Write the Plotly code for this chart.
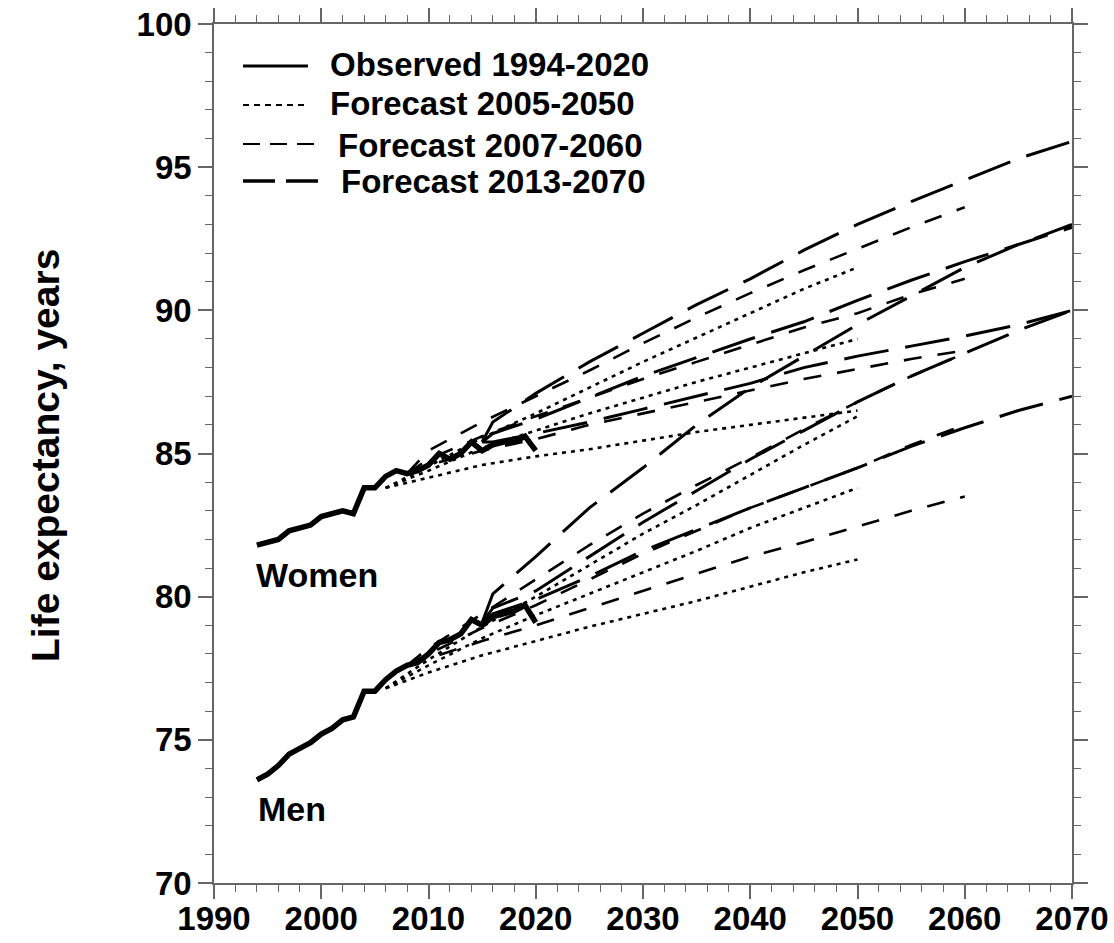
import plotly.graph_objects as go

# ---------------- data ----------------
obs_years = list(range(1994, 2021))
obs_women = [81.8, 81.9, 82.0, 82.3, 82.4, 82.5, 82.8, 82.9, 83.0, 82.9, 83.8, 83.8, 84.2,
             84.4, 84.3, 84.4, 84.6, 85.0, 84.8, 85.0, 85.4, 85.1, 85.3, 85.4, 85.4, 85.6, 85.1]
obs_men = [73.6, 73.8, 74.1, 74.5, 74.7, 74.9, 75.2, 75.4, 75.7, 75.8, 76.7, 76.7, 77.1,
           77.4, 77.6, 77.7, 78.0, 78.4, 78.5, 78.7, 79.2, 79.0, 79.3, 79.4, 79.5, 79.7, 79.1]

# Forecast 2005-2050 (dotted)
f2005_years = [2006, 2010, 2015, 2020, 2025, 2030, 2035, 2040, 2045, 2050]
f2005_w_high = [83.8, 84.55, 85.55, 86.4, 87.3, 88.2, 89.05, 89.9, 90.75, 91.5]
f2005_w_mid = [83.8, 84.4, 85.2, 85.8, 86.4, 86.95, 87.5, 88.0, 88.5, 89.0]
f2005_w_low = [83.8, 84.15, 84.6, 84.9, 85.15, 85.45, 85.75, 86.0, 86.25, 86.5]
f2005_m_high = [76.8, 77.8, 78.95, 80.0, 81.1, 82.2, 83.2, 84.25, 85.3, 86.3]
f2005_m_mid = [76.8, 77.6, 78.55, 79.35, 80.1, 80.85, 81.6, 82.4, 83.1, 83.8]
f2005_m_low = [76.8, 77.35, 77.95, 78.45, 78.95, 79.4, 79.85, 80.35, 80.85, 81.3]

# Forecast 2007-2060 (dashed)
f2007_years = [2008, 2010, 2015, 2020, 2025, 2030, 2035, 2040, 2045, 2050, 2055, 2060]
f2007_w_high = [84.3, 85.1, 86.1, 87.0, 87.9, 88.85, 89.75, 90.6, 91.4, 92.15, 92.9, 93.6]
f2007_w_mid = [84.3, 84.8, 85.6, 86.3, 86.95, 87.6, 88.2, 88.8, 89.4, 89.9, 90.55, 91.1]
f2007_w_low = [84.3, 84.6, 85.1, 85.5, 86.0, 86.4, 86.8, 87.2, 87.6, 87.95, 88.3, 88.6]
f2007_m_high = [77.6, 78.2, 79.4, 80.6, 81.8, 82.9, 83.9, 84.85, 85.85, 86.8, 87.7, 88.5]
f2007_m_mid = [77.6, 78.0, 78.9, 79.7, 80.6, 81.5, 82.3, 83.1, 83.8, 84.5, 85.3, 86.0]
f2007_m_low = [77.6, 77.85, 78.45, 79.0, 79.6, 80.2, 80.8, 81.4, 81.9, 82.45, 83.0, 83.5]

# Forecast 2013-2070 (long dashes)
f2013_years = [2015, 2016, 2020, 2025, 2030, 2035, 2040, 2045, 2050, 2055, 2060, 2065, 2070]
f2013_w_high = [85.4, 86.1, 87.1, 88.2, 89.2, 90.2, 91.1, 92.1, 93.0, 93.8, 94.55, 95.3, 95.9]
f2013_w_mid = [85.4, 85.7, 86.2, 86.95, 87.7, 88.35, 89.0, 89.6, 90.35, 91.05, 91.7, 92.3, 92.9]
f2013_w_low = [85.4, 85.4, 85.7, 86.1, 86.55, 87.0, 87.45, 88.0, 88.4, 88.75, 89.1, 89.5, 90.0]
f2013_m_high = [79.1, 80.1, 81.4, 83.1, 84.5, 86.0, 87.3, 88.4, 89.5, 90.5, 91.5, 92.3, 93.0]
f2013_m_mid = [79.1, 79.6, 80.2, 81.4, 82.6, 83.7, 84.8, 85.8, 86.8, 87.7, 88.5, 89.3, 90.0]
f2013_m_low = [79.1, 79.4, 79.9, 80.7, 81.6, 82.35, 83.1, 83.8, 84.5, 85.25, 85.9, 86.5, 87.0]

legend_labels = ["Observed 1994-2020", "Forecast 2005-2050", "Forecast 2007-2060", "Forecast 2013-2070"]
x_ticks = list(range(1990, 2071, 10))
y_ticks = list(range(70, 101, 5))

# ---------------- figure ----------------
FONT = "Liberation Sans, Arial, sans-serif"
AX = "#666666"
W, H = 1114, 943
ML, MR, MT, MB = 214, 42, 24, 60
PW, PH = W - ML - MR, H - MT - MB
FS = 33

fig = go.Figure()

def add_line(x, y, dash, width):
    fig.add_trace(go.Scatter(x=x, y=y, mode="lines",
                             line=dict(color="black", width=width, dash=dash),
                             hoverinfo="skip", showlegend=False))

for ser in [f2005_w_high, f2005_w_mid, f2005_w_low, f2005_m_high, f2005_m_mid, f2005_m_low]:
    add_line(f2005_years, ser, "4px,5px", 2.6)
for ser in [f2007_w_high, f2007_w_mid, f2007_w_low, f2007_m_high, f2007_m_mid, f2007_m_low]:
    add_line(f2007_years, ser, "18px,16px", 2.6)
for ser in [f2013_w_high, f2013_w_mid, f2013_w_low, f2013_m_high, f2013_m_mid, f2013_m_low]:
    add_line(f2013_years, ser, "45px,17px", 3)
add_line(obs_years, obs_women, "solid", 5.5)
add_line(obs_years, obs_men, "solid", 5.5)

# pixel -> paper helpers
def px(sx):
    return (sx - ML) / PW

def py(sy):
    return (H - MB - sy) / PH

# legend (drawn)
leg_rows = [
    dict(y=66, x0=243, x1=308, dash="solid", w=3, tx=328, ty=64),
    dict(y=105, x0=243, x1=308, dash="6px,5px", w=2, tx=328, ty=104),
    dict(y=144, x0=243, x1=316, dash="17px,10px", w=2, tx=336, ty=145),
    dict(y=181, x0=243, x1=318, dash="32px,11px", w=3.5, tx=339, ty=181),
]
for row, lab in zip(leg_rows, legend_labels):
    fig.add_shape(type="line", xref="paper", yref="paper",
                  x0=px(row["x0"]), x1=px(row["x1"]), y0=py(row["y"]), y1=py(row["y"]),
                  line=dict(color="black", width=row["w"], dash=row["dash"]))
    fig.add_annotation(xref="paper", yref="paper", x=px(row["tx"]), y=py(row["ty"]),
                       xanchor="left", yanchor="middle", showarrow=False, text=lab,
                       font=dict(family=FONT, size=FS, color="black", weight="bold"))

fig.add_annotation(x=1993.7, y=80.75, xanchor="left", yanchor="middle", showarrow=False,
                   text="Women", font=dict(family=FONT, size=FS + 1, color="black", weight="bold"))
fig.add_annotation(x=1993.9, y=72.6, xanchor="left", yanchor="middle", showarrow=False,
                   text="Men", font=dict(family=FONT, size=FS + 1, color="black", weight="bold"))

# y-axis title
fig.add_annotation(xref="paper", yref="paper", x=px(45), y=py(456), xanchor="center",
                   yanchor="middle", textangle=-90, showarrow=False,
                   text="Life expectancy, years",
                   font=dict(family=FONT, size=39, color="black", weight="bold"))

axis_common = dict(showgrid=False, zeroline=False, showline=True, linecolor=AX, linewidth=1.5,
                   ticks="outside", ticklen=14, tickwidth=1.5, tickcolor=AX, mirror="allticks",
                   automargin=False, ticklabeloverflow="allow",
                   tickfont=dict(family=FONT, size=FS, color="black", weight="bold"))

fig.update_xaxes(range=[1990, 2070], tickmode="array", tickvals=x_ticks, ticklabelstandoff=-8,
                 minor=dict(dtick=2, tick0=1990, ticks="outside", ticklen=7, tickwidth=1.2, tickcolor=AX),
                 **axis_common)
fig.update_yaxes(range=[70, 100], tickmode="array", tickvals=y_ticks,
                 minor=dict(dtick=1, tick0=70, ticks="outside", ticklen=7, tickwidth=1.2, tickcolor=AX),
                 **axis_common)

fig.update_layout(width=W, height=H, margin=dict(l=ML, r=MR, t=MT, b=MB, autoexpand=False),
                  paper_bgcolor="white", plot_bgcolor="white", showlegend=False)

# remove the default 8px page margin so the figure fills the window exactly
fig.write_html("out.html", config={"displayModeBar": False},
               post_script="document.body.style.margin='0';document.body.style.overflow='hidden';")
